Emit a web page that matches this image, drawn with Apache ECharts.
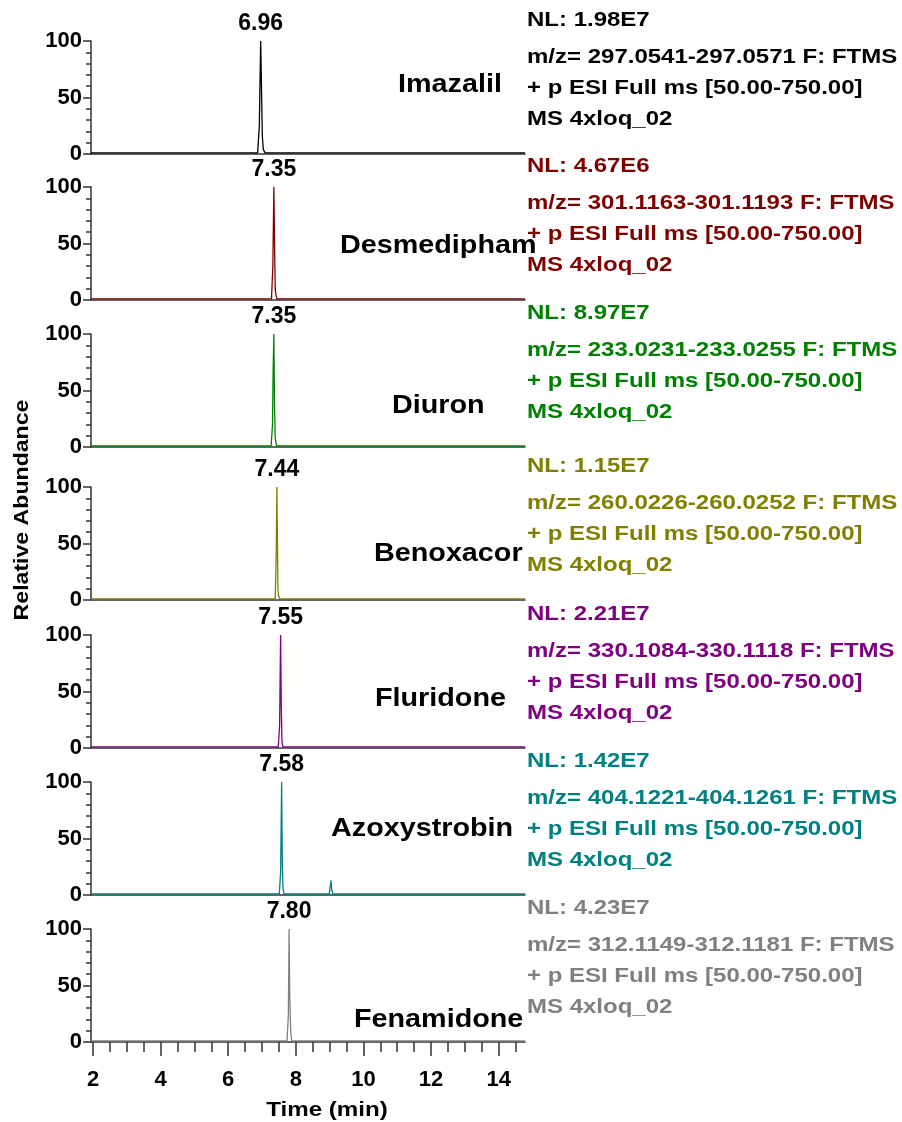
<!DOCTYPE html>
<html>
<head>
<meta charset="utf-8">
<script src="https://cdn.jsdelivr.net/npm/echarts@6/dist/echarts.min.js"></script>
<style>
  html, body { margin: 0; padding: 0; background: #fff; }
  #chart { width: 902px; height: 1122px; }
</style>
</head>
<body>
<div id="chart"></div>
<script>
const compounds = ['Imazalil', 'Desmedipham', 'Diuron', 'Benoxacor', 'Fluridone', 'Azoxystrobin', 'Fenamidone'];
const colors    = ['#000000', '#800000', '#008000', '#808000', '#800080', '#008080', '#808080'];
const nlValues  = ['1.98E7', '4.67E6', '8.97E7', '1.15E7', '2.21E7', '1.42E7', '4.23E7'];
const mzRanges  = ['297.0541-297.0571', '301.1163-301.1193', '233.0231-233.0255', '260.0226-260.0252',
                   '330.1084-330.1118', '404.1221-404.1261', '312.1149-312.1181'];

// retention time (min) and relative abundance (%) of each trace
const imazalilT     = [1.94, 6.87, 6.92, 6.96, 6.99, 7.01, 7.04, 7.09, 14.78];
const imazalilY     = [1, 1, 25, 100, 48, 15, 4, 1, 1];
const desmediphamT  = [1.94, 7.28, 7.32, 7.35, 7.37, 7.39, 7.41, 7.44, 14.78];
const desmediphamY  = [1, 1, 30, 100, 50, 10, 5, 1, 1];
const diuronT       = [1.94, 7.27, 7.31, 7.33, 7.35, 7.37, 7.39, 7.43, 14.78];
const diuronY       = [1, 1, 20, 70, 100, 35, 8, 1, 1];
const benoxacorT    = [1.94, 7.39, 7.42, 7.44, 7.47, 7.49, 7.52, 14.78];
const benoxacorY    = [1, 1, 40, 100, 10, 4, 1, 1];
const fluridoneT    = [1.94, 7.48, 7.52, 7.55, 7.57, 7.59, 7.62, 14.78];
const fluridoneY    = [1, 1, 20, 100, 35, 5, 1, 1];
const azoxystrobinT = [1.94, 7.51, 7.55, 7.58, 7.60, 7.62, 7.65, 8.99, 9.02, 9.04, 9.06, 9.09, 14.78];
const azoxystrobinY = [1, 1, 20, 100, 28, 6, 1, 1, 8, 13, 5, 1, 1];
const fenamidoneT   = [1.94, 7.74, 7.78, 7.80, 7.82, 7.85, 7.88, 14.78];
const fenamidoneY   = [1, 1, 25, 100, 40, 8, 1, 1];

const xMajorTicks = [2, 4, 6, 8, 10, 12, 14];
const xMinorTicks = [2, 2.5, 3, 3.5, 4, 4.5, 5, 5.5, 6, 6.5, 7, 7.5, 8, 8.5, 9, 9.5, 10, 10.5,
                     11, 11.5, 12, 12.5, 13, 13.5, 14, 14.5];

const traces = [
  [imazalilT, imazalilY], [desmediphamT, desmediphamY], [diuronT, diuronY],
  [benoxacorT, benoxacorY], [fluridoneT, fluridoneY], [azoxystrobinT, azoxystrobinY],
  [fenamidoneT, fenamidoneY],
];

const FONT = '"Liberation Sans", Arial, sans-serif';
const AXIS = '#333';
const panelBottoms = [154, 300, 447, 600, 748, 895, 1042];
const panelH = 113;
// where the compound name sits in each panel
const nameX = [398, 340, 392, 374, 375, 331, 354];
const nameOffsets = [69, 54, 41, 46, 49, 66, 22];

const chart = echarts.init(document.getElementById('chart'));

const grids = [], xAxes = [], yAxes = [], series = [], graphics = [];

panelBottoms.forEach((b, i) => {
  const last = i === panelBottoms.length - 1;
  grids.push({ left: 91, width: 434, top: b - panelH, height: panelH, outerBoundsMode: 'none' });

  xAxes.push({
    gridIndex: i, type: 'value', min: 1.94, max: 14.78, position: 'bottom',
    axisLine: { show: true, onZero: false, lineStyle: { color: AXIS, width: 1.5 } },
    axisTick: last
      ? { show: true, customValues: xMajorTicks, length: 14, lineStyle: { color: AXIS, width: 1.5 } }
      : { show: false },
    axisLabel: last
      ? { show: true, customValues: xMajorTicks, fontSize: 22, fontWeight: 'bold', color: '#000',
          fontFamily: FONT, margin: 27 }
      : { show: false },
    splitLine: { show: false },
  });

  yAxes.push({
    gridIndex: i, type: 'value', min: 0, max: 100, interval: 50,
    axisLine: { show: true, lineStyle: { color: AXIS, width: 1.5 } },
    axisTick: { show: true, length: 8, lineStyle: { color: AXIS, width: 1.5 } },
    minorTick: { show: true, splitNumber: 5, length: 5, lineStyle: { color: AXIS, width: 1.5 } },
    axisLabel: { fontSize: 22, fontWeight: 'bold', color: '#000', fontFamily: FONT, margin: 9 },
    splitLine: { show: false },
  });

  const [T, Y] = traces[i];
  const peak = Y.indexOf(Math.max(...Y));
  series.push({
    type: 'line', xAxisIndex: i, yAxisIndex: i,
    data: T.map((t, k) => k === peak
      ? { value: [t, Y[k]], label: { show: true, formatter: t.toFixed(2) } }
      : [t, Y[k]]),
    symbol: 'circle', symbolSize: 0, showSymbol: true,
    lineStyle: { color: colors[i], width: 1.3 },
    itemStyle: { color: colors[i] },
    label: { show: false, position: 'top', distance: 6, fontSize: 23, fontWeight: 'bold',
             color: '#000', fontFamily: FONT },
    animation: false, silent: true, z: 3,
  });

  // compound name
  graphics.push({
    type: 'text', x: nameX[i], y: b - nameOffsets[i], scaleX: 1.15,
    style: { text: compounds[i], fontSize: 25, fontWeight: 'bold', fontFamily: FONT, fill: '#000',
             textAlign: 'left', textVerticalAlign: 'middle' },
  });

  // scan info on the right
  const info = ['NL: ' + nlValues[i], 'm/z= ' + mzRanges[i] + ' F: FTMS',
                '+ p ESI Full ms [50.00-750.00]', 'MS 4xloq_02'];
  const offs = [134, 97, 66, 35];
  info.forEach((txt, k) => {
    graphics.push({
      type: 'text', x: 527, y: b - offs[k], scaleX: 1.2,
      style: { text: txt, fontSize: 20, fontWeight: 'bold', fontFamily: FONT, fill: colors[i],
               textAlign: 'left', textVerticalAlign: 'middle' },
    });
  });
});

// minor ticks of the time axis
const lastIdx = panelBottoms.length - 1;
xAxes.push({
  gridIndex: lastIdx, type: 'value', min: 1.94, max: 14.78, position: 'bottom', offset: 0,
  axisLine: { show: false },
  axisTick: { show: true, customValues: xMinorTicks, length: 10, lineStyle: { color: AXIS, width: 1.5 } },
  axisLabel: { show: false },
  splitLine: { show: false },
});

graphics.push({
  type: 'text', x: 22, y: 510, rotation: Math.PI / 2, scaleX: 1.1,
  style: { text: 'Relative Abundance', fontSize: 21, fontWeight: 'bold', fontFamily: FONT, fill: '#000',
           textAlign: 'center', textVerticalAlign: 'middle' },
});
graphics.push({
  type: 'text', x: 327, y: 1110, scaleX: 1.15,
  style: { text: 'Time (min)', fontSize: 21, fontWeight: 'bold', fontFamily: FONT, fill: '#000',
           textAlign: 'center', textVerticalAlign: 'middle' },
});

chart.setOption({
  animation: false,
  grid: grids,
  xAxis: xAxes,
  yAxis: yAxes,
  series: series,
  graphic: graphics,
});
</script>
</body>
</html>
